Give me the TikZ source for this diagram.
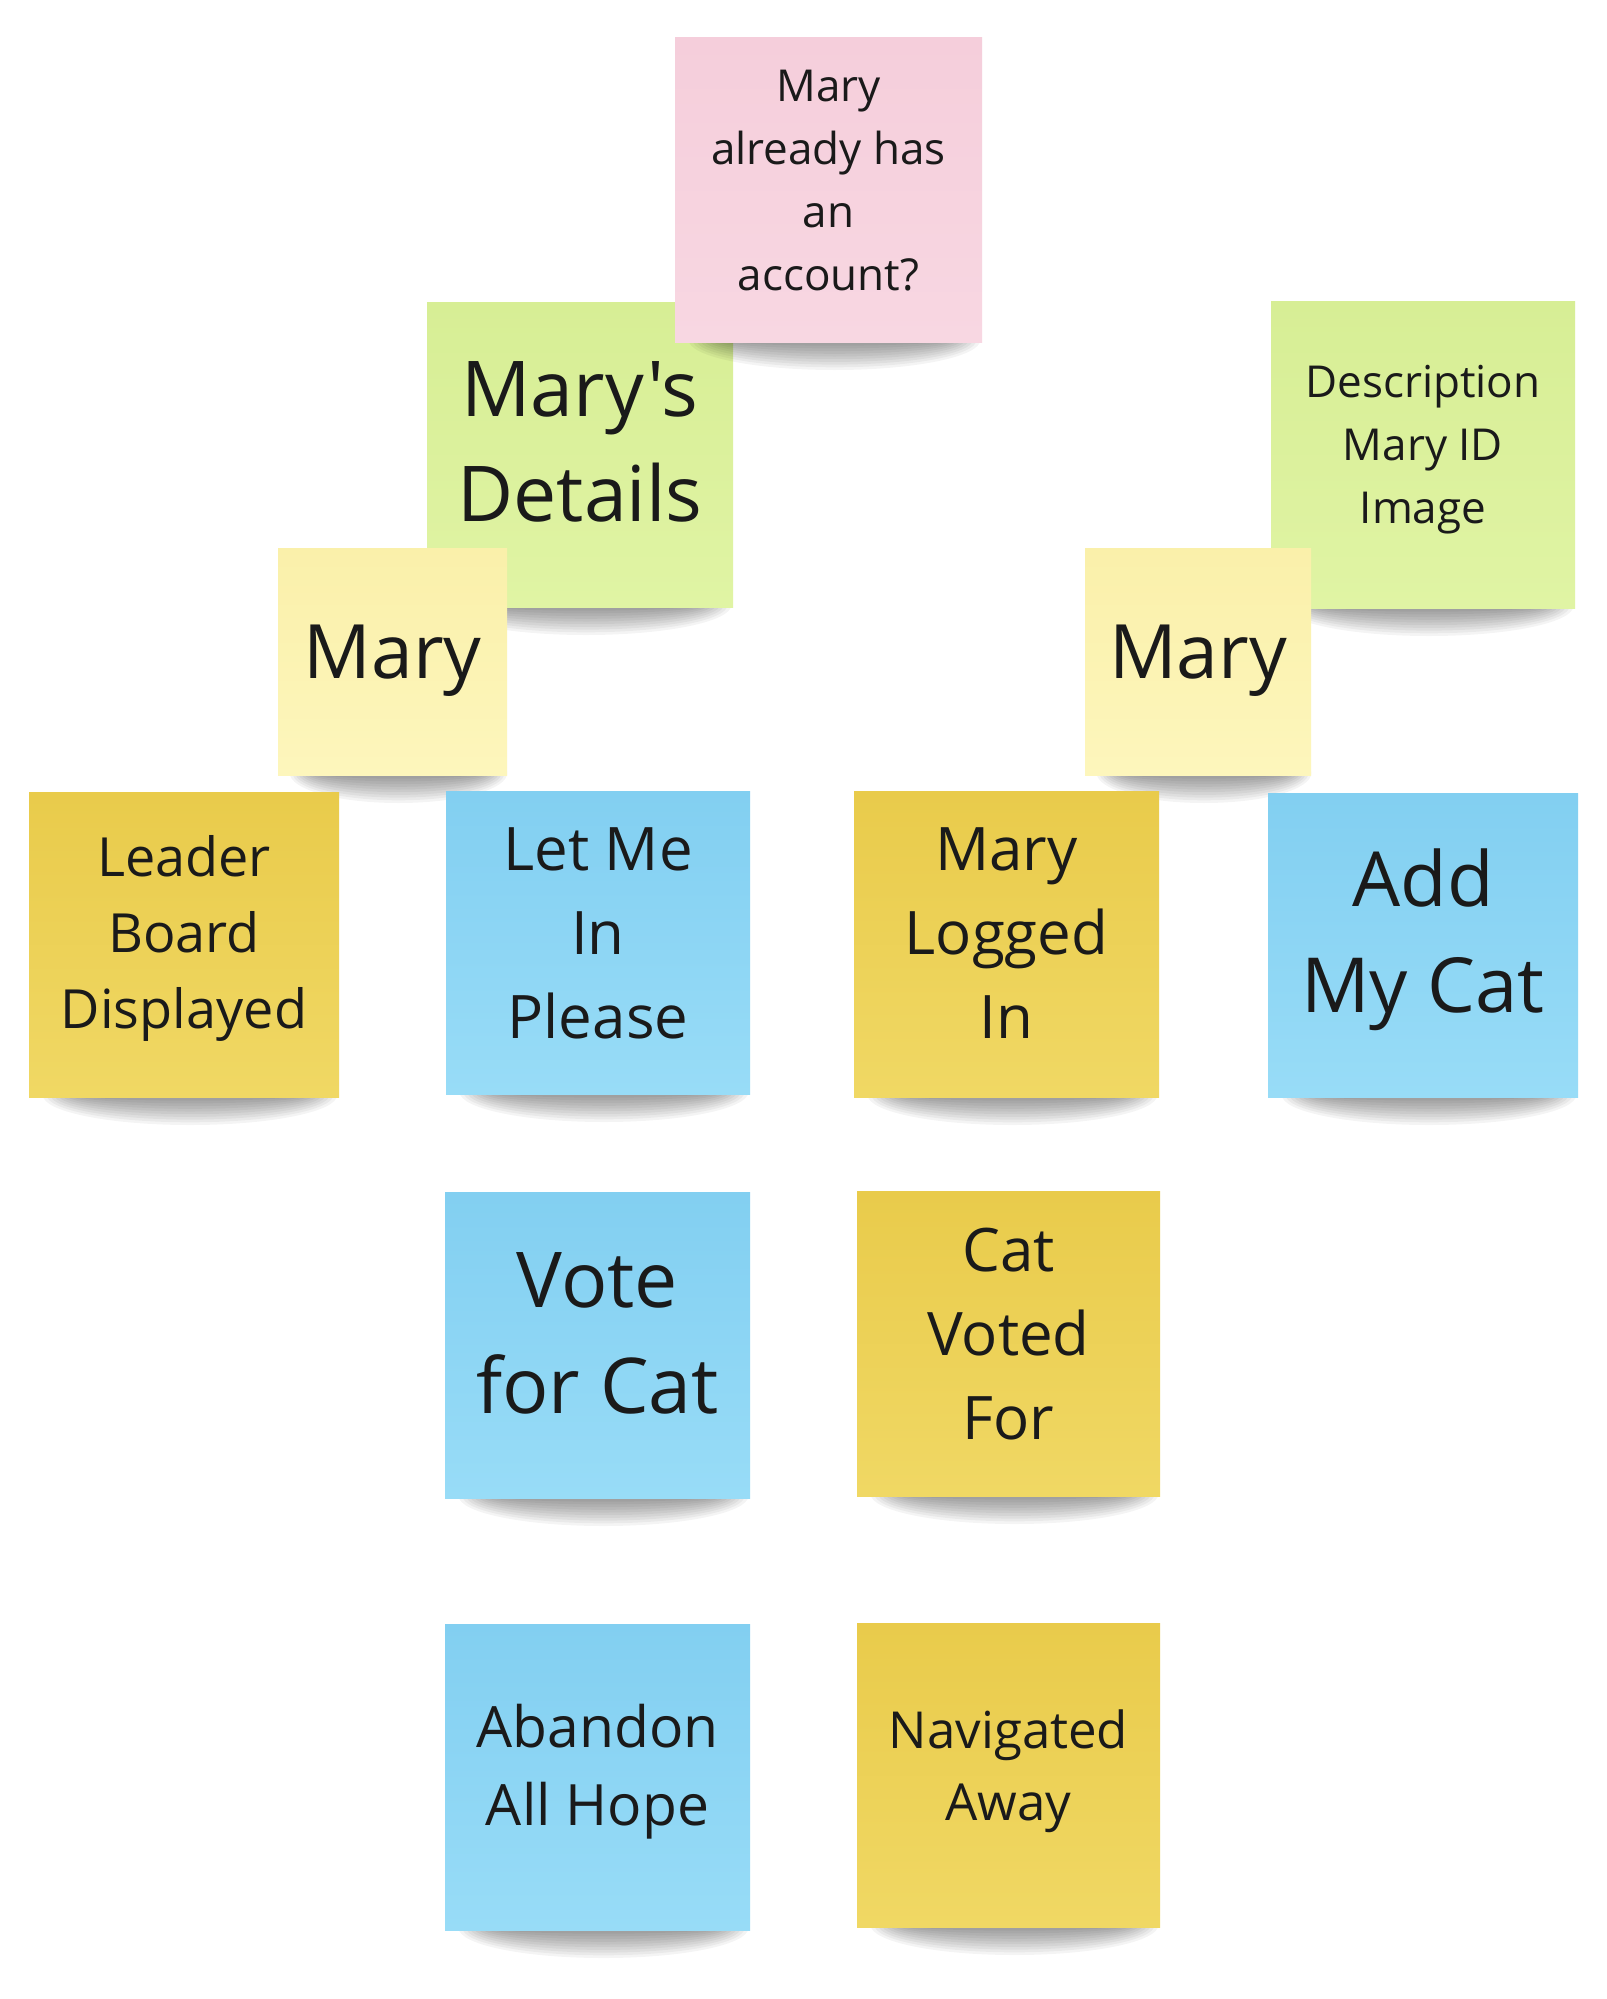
\documentclass[tikz,border=0pt]{standalone}
\usepackage{fontspec}
\setmainfont{Open Sans}[Ligatures=TeXOff]
\definecolor{inkc}{HTML}{1A1A1A}
\definecolor{pinkT}{HTML}{F5CEDB}\definecolor{pinkB}{HTML}{F8D7E2}
\definecolor{greenT}{HTML}{D7EE95}\definecolor{greenB}{HTML}{E0F4A4}
\definecolor{lyelT}{HTML}{FAF0AA}\definecolor{lyelB}{HTML}{FDF6BC}
\definecolor{goldT}{HTML}{E9CB4B}\definecolor{goldB}{HTML}{F0D864}
\definecolor{blueT}{HTML}{82CFF1}\definecolor{blueB}{HTML}{98DCF7}
\newcommand\nTop{\rule{0pt}{1.2em}}
\newcommand\nBot{\rule[-1.2em]{0pt}{1.2em}}
\newcommand\noteshadow[3]{%
  \foreach \k in {0,...,9}{%
    \fill[black,opacity=0.045] ({(#1+#2)/2+6},{#3-2}) ellipse ({(#2-#1)/2*(0.95-0.025*\k)} and {30-2.7*\k});}}
\begin{document}
\begin{tikzpicture}[x=1pt,y=-1pt,
  note/.style={rectangle,draw=none,inner sep=0pt,outer sep=0pt},
  sz/.style 2 args={minimum width=#1pt,minimum height=#2pt},
  pinknote/.style={note,top color=pinkT,bottom color=pinkB},
  greennote/.style={note,top color=greenT,bottom color=greenB},
  yelnote/.style={note,top color=lyelT,bottom color=lyelB},
  goldnote/.style={note,top color=goldT,bottom color=goldB},
  bluenote/.style={note,top color=blueT,bottom color=blueB},
  txt/.style={align=center,inner sep=0pt,text=inkc},
  fs/.style 2 args={font=\fontsize{#1}{#2}\selectfont}]
\useasboundingbox (0,0) rectangle (1606,1999);
\fill[white] (0,0) rectangle (1606,1999);

% Mary's Details
\noteshadow{427}{733}{607}
\node[greennote,sz={306}{305}] (n2) at (580,454.5) {};
\node[txt,fs={77}{105}] (t2) at (580,469) {\nTop Mary's\\Details\nBot};
% Description
\noteshadow{1271}{1575}{608}
\node[greennote,sz={304}{307}] (n4) at (1423,454.5) {};
\node[txt,fs={44}{63}] (t4) at (1423,460) {\nTop Description\\Mary ID\\Image\nBot};
% Pink
\noteshadow{675}{982}{342}
\node[pinknote,sz={307}{304}] (n1) at (828.5,190) {};
\node[txt,fs={44}{63}] (t1) at (828.5,196) {\nTop Mary\\already has\\an\\account?\nBot};
% Mary left
\noteshadow{278}{507}{775}
\node[yelnote,sz={229}{227}] (n3) at (392.5,661.5) {};
\node[txt,fs={75}{100}] (t3) at (392.5,678) {\nTop Mary\nBot};
% Mary right
\noteshadow{1085}{1311}{775}
\node[yelnote,sz={226}{227}] (n5) at (1198,661.5) {};
\node[txt,fs={75}{100}] (t5) at (1198,678) {\nTop Mary\nBot};

% Row 1
\noteshadow{29}{339}{1097}
\node[goldnote,sz={310}{305}] (n6) at (184,944.5) {};
\node[txt,fs={54}{76}] (t6) at (184,952) {\nTop Leader\\Board\\Displayed\nBot};
\noteshadow{446}{750}{1094}
\node[bluenote,sz={304}{303}] (n7) at (598,942.5) {};
\node[txt,fs={60}{84}] (t7) at (598,954) {\nTop Let Me\\In\\Please\nBot};
\noteshadow{854}{1159}{1097}
\node[goldnote,sz={305}{306}] (n8) at (1006.5,944) {};
\node[txt,fs={60}{84}] (t8) at (1006.5,954) {\nTop Mary\\Logged\\In\nBot};
\noteshadow{1268}{1578}{1097}
\node[bluenote,sz={310}{304}] (n9) at (1423,945) {};
\node[txt,fs={76}{106}] (t9) at (1423,959) {\nTop Add\\My Cat\nBot};

% Row 2
\noteshadow{445}{750}{1498}
\node[bluenote,sz={305}{306}] (n10) at (597.5,1345) {};
\node[txt,fs={77}{106}] (t10) at (597.5,1360) {\nTop Vote\\for Cat\nBot};
\noteshadow{857}{1160}{1496}
\node[goldnote,sz={303}{305}] (n11) at (1008.5,1343.5) {};
\node[txt,fs={60}{84}] (t11) at (1008.5,1355) {\nTop Cat\\Voted\\For\nBot};

% Row 3
\noteshadow{445}{750}{1930}
\node[bluenote,sz={305}{306}] (n12) at (597.5,1777) {};
\node[txt,fs={57}{78}] (t12) at (597.5,1786) {\nTop Abandon\\All Hope\nBot};
\noteshadow{857}{1160}{1927}
\node[goldnote,sz={303}{304}] (n13) at (1008.5,1775) {};
\node[txt,fs={51}{72}] (t13) at (1008.5,1784) {\nTop Navigated\\Away\nBot};
\end{tikzpicture}
\end{document}
